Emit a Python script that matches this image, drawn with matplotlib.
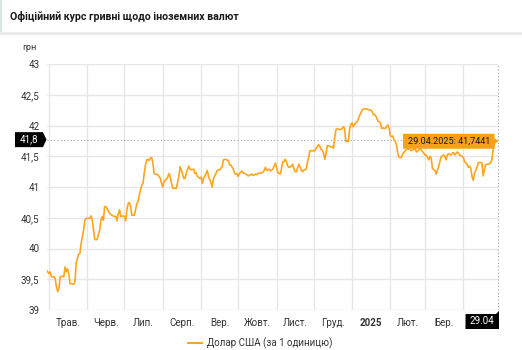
import matplotlib
matplotlib.use('Agg')
import matplotlib.pyplot as plt
import matplotlib.dates as mdates
from matplotlib.patches import Polygon, Rectangle
from matplotlib.lines import Line2D
from matplotlib.transforms import IdentityTransform
import pandas as pd

plt.rcParams['font.family'] = ['Roboto', 'DejaVu Sans']

TITLE = 'Офіційний курс гривні щодо іноземних валют'
UNIT = 'грн'
SERIES_NAME = 'Долар США (за 1 одиницю)'
PERIOD_START = '2024-05-01'

# days counted from PERIOD_START, and the official UAH/USD rate on that day
day_offsets = [
    -2, -1, 0, 1, 2, 4, 5, 6, 7, 8, 9, 11, 12, 13, 14, 15, 16, 17, 20, 21,
    22, 23, 24, 25, 26, 28, 29, 30, 33, 34, 35, 36, 37, 38, 39, 41, 42, 43, 44, 45,
    46, 47, 49, 51, 53, 54, 55, 56, 57, 58, 60, 61, 62, 63, 64, 65, 66, 67, 69, 70,
    71, 72, 73, 75, 76, 77, 78, 79, 80, 81, 82, 83, 84, 85, 86, 88, 90, 91, 92, 93,
    95, 96, 97, 98, 99, 100, 102, 103, 105, 106, 107, 109, 110, 111, 113, 114, 115, 117, 118, 119,
    120, 122, 123, 124, 125, 127, 128, 129, 131, 132, 133, 135, 136, 138, 140, 141, 142, 144, 145, 146,
    147, 149, 150, 151, 152, 153, 154, 156, 157, 158, 160, 161, 163, 164, 165, 167, 168, 169, 171, 172,
    173, 174, 175, 176, 178, 179, 181, 182, 183, 184, 185, 187, 188, 189, 190, 191, 192, 193, 194, 196,
    197, 198, 199, 200, 202, 203, 204, 205, 206, 207, 208, 209, 210, 211, 212, 214, 215, 216, 218, 219,
    220, 221, 222, 223, 224, 225, 226, 228, 229, 230, 231, 232, 233, 234, 235, 237, 238, 239, 240, 241,
    242, 243, 244, 245, 246, 247, 248, 249, 250, 251, 253, 254, 256, 257, 258, 260, 261, 262, 263, 264,
    265, 266, 268, 269, 270, 272, 273, 274, 275, 276, 277, 278, 279, 280, 281, 282, 283, 285, 286, 289,
    291, 293, 294, 296, 297, 299, 300, 301, 303, 304, 305, 307, 308, 309, 310, 311, 312, 313, 315, 316,
    317, 319, 320, 321, 322, 323, 325, 326, 327, 328, 330, 331, 332, 334, 335, 336, 338, 339, 340, 341,
    342, 343, 344, 346, 347, 348, 350, 351, 352, 353, 354, 355, 357, 358, 359, 360, 361, 363,
]
rates = [
    39.65, 39.62, 39.59, 39.62, 39.54, 39.54, 39.51, 39.38, 39.30, 39.34, 39.54, 39.55, 39.54, 39.70, 39.62, 39.67, 39.59, 39.43, 39.42, 39.46,
    39.76, 39.84, 39.91, 39.92, 40.08, 40.30, 40.46, 40.49, 40.49, 40.53, 40.46, 40.30, 40.15, 40.14, 40.15, 40.30, 40.46, 40.52, 40.46, 40.68,
    40.68, 40.65, 40.57, 40.54, 40.52, 40.52, 40.45, 40.57, 40.63, 40.52, 40.53, 40.52, 40.45, 40.63, 40.73, 40.75, 40.68, 40.54, 40.54, 40.63,
    40.73, 40.76, 40.87, 41.03, 41.06, 41.22, 41.36, 41.44, 41.45, 41.43, 41.47, 41.48, 41.39, 41.22, 41.21, 41.20, 41.14, 41.06, 41.00, 41.09,
    41.13, 41.16, 41.22, 41.17, 41.06, 40.98, 40.98, 40.98, 41.17, 41.33, 41.28, 41.14, 41.14, 41.22, 41.34, 41.29, 41.28, 41.29, 41.22, 41.23,
    41.17, 41.14, 41.16, 41.06, 41.14, 41.22, 41.27, 41.17, 41.07, 41.00, 41.14, 41.22, 41.27, 41.28, 41.33, 41.44, 41.45, 41.44, 41.43, 41.36,
    41.36, 41.29, 41.23, 41.21, 41.22, 41.17, 41.22, 41.26, 41.23, 41.22, 41.20, 41.18, 41.20, 41.21, 41.19, 41.21, 41.20, 41.22, 41.23, 41.23,
    41.24, 41.27, 41.32, 41.27, 41.29, 41.26, 41.29, 41.34, 41.39, 41.32, 41.23, 41.21, 41.30, 41.41, 41.41, 41.45, 41.41, 41.34, 41.32, 41.34,
    41.37, 41.30, 41.25, 41.25, 41.37, 41.33, 41.27, 41.25, 41.28, 41.28, 41.29, 41.41, 41.49, 41.59, 41.59, 41.59, 41.59, 41.63, 41.69, 41.66,
    41.61, 41.60, 41.55, 41.45, 41.55, 41.67, 41.67, 41.65, 41.66, 41.63, 41.80, 41.93, 41.95, 41.94, 41.93, 41.95, 41.98, 41.95, 41.74, 41.75,
    41.74, 41.93, 42.02, 42.04, 41.98, 42.01, 42.05, 42.06, 42.10, 42.16, 42.24, 42.27, 42.27, 42.27, 42.26, 42.25, 42.24, 42.18, 42.18, 42.16,
    42.12, 42.07, 42.04, 41.95, 41.96, 41.95, 41.98, 42.01, 41.95, 41.83, 41.82, 41.83, 41.76, 41.74, 41.68, 41.55, 41.48, 41.48, 41.54, 41.61,
    41.62, 41.59, 41.60, 41.63, 41.57, 41.60, 41.63, 41.60, 41.55, 41.52, 41.52, 41.44, 41.50, 41.47, 41.30, 41.28, 41.27, 41.21, 41.33, 41.41,
    41.49, 41.52, 41.50, 41.44, 41.52, 41.54, 41.52, 41.55, 41.56, 41.52, 41.57, 41.55, 41.52, 41.50, 41.48, 41.41, 41.37, 41.32, 41.34, 41.30,
    41.17, 41.11, 41.22, 41.32, 41.39, 41.40, 41.39, 41.18, 41.28, 41.36, 41.37, 41.37, 41.39, 41.44, 41.60, 41.71, 41.76, 41.7441,
]

# level of the horizontal crosshair (pointer position on the value axis)
cursor_rate = 41.77

month_labels = ['Трав.', 'Черв.', 'Лип.', 'Серп.', 'Вер.', 'Жовт.', 'Лист.', 'Груд.',
                '2025', 'Лют.', 'Бер.']
y_ticks = [39, 39.5, 40, 40.5, 41, 41.5, 42, 42.5, 43]

LINE_COLOR = '#ffa51f'
TIP_COLOR = '#f7a11a'
GRID_COLOR = '#e6e6e6'
TEXT_COLOR = '#333333'
W, H = 522, 350

dates = pd.Timestamp(PERIOD_START) + pd.to_timedelta(day_offsets, unit='D')
last_date, last_rate = dates[-1], rates[-1]


def comma(v, fmt):
    return format(v, fmt).replace('.', ',')


fig = plt.figure(figsize=(W / 100, H / 100), dpi=100)
fig.patch.set_facecolor('white')

# header with its separator and accent
fig.add_artist(Rectangle((0, (H - 35) / H), 1, 3 / H, transform=fig.transFigure,
                         facecolor='#ebebeb', edgecolor='none'))
fig.add_artist(Rectangle((0, (H - 32) / H), 2 / W, 32 / H, transform=fig.transFigure,
                         facecolor='#d5eadf', edgecolor='none'))
fig.text(10 / W, 1 - 17 / H, TITLE, fontsize=7.6, fontweight='bold', color='#1a1a1a',
         va='center', ha='left')
fig.text(22 / W, 1 - 47 / H, UNIT, fontsize=6.6, color=TEXT_COLOR, va='center', ha='left')

ax = fig.add_axes([46.5 / W, 40 / H, 451.5 / W, 246 / H])
ax.set_facecolor('white')
for s in ax.spines.values():
    s.set_visible(False)

ax.plot(dates, rates, color=LINE_COLOR, lw=1.2, zorder=3, solid_joinstyle='round')

ax.set_xlim(dates[0], last_date)
ax.set_ylim(39, 43)

# horizontal grid
ax.set_yticks(y_ticks)
ax.set_yticklabels([comma(v, 'g') for v in y_ticks])
ax.tick_params(axis='y', length=0, pad=5, labelsize=7, labelcolor=TEXT_COLOR)
ax.grid(axis='y', color=GRID_COLOR, lw=1)

# month boundaries as vertical grid, month names centred in each month
month_starts = pd.date_range('2024-05-01', '2025-04-01', freq='MS')
for m in month_starts:
    ax.axvline(m, color=GRID_COLOR, lw=1, zorder=0)
label_months = month_starts[:len(month_labels)]
label_pos = [m + pd.Timedelta(days=m.days_in_month / 2) for m in label_months]
ax.set_xticks(label_pos)
ax.set_xticklabels(month_labels)
ax.tick_params(axis='x', length=0, pad=6, labelsize=7, labelcolor=TEXT_COLOR)
for lbl in ax.get_xticklabels():
    if lbl.get_text().isdigit():
        lbl.set_fontweight('bold')

# crosshair
ax.axhline(cursor_rate, color='#a0a0a0', lw=0.8, ls=(0, (1, 2)), zorder=2)
ax.axvline(last_date, color='#a0a0a0', lw=0.8, ls=(0, (1, 2)), zorder=2, clip_on=False)

ident = IdentityTransform()
px, py = ax.transData.transform((mdates.date2num(last_date), last_rate))
cy = ax.transData.transform((mdates.date2num(last_date), cursor_rate))[1]
bottom_px = ax.transData.transform((mdates.date2num(last_date), 39))[1]

# crosshair flag on the value axis
hh = 7.5
x0, x1 = 15, 43
fig.add_artist(Polygon([(x0, cy - hh), (x1, cy - hh), (x1 + 3.5, cy), (x1, cy + hh), (x0, cy + hh)],
                       closed=True, transform=ident, facecolor='black', edgecolor='none'))
fig.text((x0 + x1) / 2 / W, cy / H, comma(cursor_rate, '.1f'), fontsize=7, color='white',
         ha='center', va='center')

# tooltip next to the last point
tx0, tx1 = px - 95, px - 3.5
fig.add_artist(Polygon([(tx0, py - hh), (tx1, py - hh), (tx1, py - 3), (px, py), (tx1, py + 3),
                        (tx1, py + hh), (tx0, py + hh)],
                       closed=True, transform=ident, facecolor=TIP_COLOR, edgecolor='none', zorder=5))
fig.text((tx0 + tx1) / 2 / W, py / H,
         f"{last_date:%d.%m.%Y}: {comma(last_rate, '.4f')}",
         fontsize=6.6, color='#1a1a1a', ha='center', va='center', zorder=6)

# date flag under the x axis
bx0, bx1 = px - 32.5, px + 1
by1 = bottom_px - 4
by0 = by1 - 15
fig.add_artist(Polygon([(bx0, by0), (bx1, by0), (bx1, by1 + 3), (bx1 - 3, by1), (bx0, by1)],
                       closed=True, transform=ident, facecolor='black', edgecolor='none'))
fig.text((bx0 + bx1) / 2 / W, (by0 + by1) / 2 / H, f"{last_date:%d.%m}", fontsize=7,
         color='white', ha='center', va='center')

# legend
fig.legend(handles=[Line2D([], [], color=LINE_COLOR, lw=1.5)], labels=[SERIES_NAME],
           loc='center', bbox_to_anchor=(0.499, 1 - 343 / H), frameon=False,
           fontsize=7, handlelength=1.4, handletextpad=0.5, labelcolor=TEXT_COLOR)

fig.savefig('out.png', dpi=100, facecolor='white')
